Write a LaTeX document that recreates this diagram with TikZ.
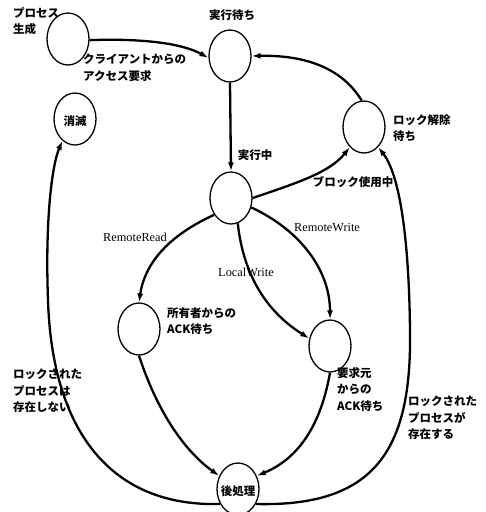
\documentclass[tikz,border=0pt]{standalone}
\usepackage{fontspec}
\setmainfont{Liberation Serif}
\newfontfamily\jp{Noto Sans CJK JP}
\usetikzlibrary{shapes.geometric,arrows.meta}
\begin{document}
\begin{tikzpicture}[x=1pt,y=-1pt,
  state/.style={ellipse,draw,line width=1.3pt,minimum width=42pt,minimum height=52pt,inner sep=0pt},
  jlab/.style={font=\jp\bfseries\fontsize{11.5}{16.5}\selectfont,align=left,inner sep=0pt},
  elab/.style={font=\fontsize{12.3}{14}\selectfont,inner sep=0pt},
  edge/.style={line width=2.3pt,-{Latex[length=9pt,width=6pt]}}]
\useasboundingbox (0,0) rectangle (486,512);
% states
\node[state] (gen) at (68,39) {};
\node[state] (wait) at (230,56) {};
\node[state] (vanish) at (75,119) {};
\node[state] (lock) at (364,127) {};
\node[state] (run) at (231,198) {};
\node[state] (owner) at (139,329) {};
\node[state] (req) at (330,346) {};
\node[state] (post) at (238,489) {};
% state labels
\node[jlab,anchor=north west] (lgen) at (13,7) {プロセス\\生成};
\node[jlab] (lwait) at (232,15) {実行待ち};
\node[jlab] (lvanish) at (75,121) {消滅};
\node[jlab,anchor=north west] (llock) at (393,114) {ロック解除\\待ち};
\node[jlab] (lrun) at (255,155) {実行中};
\node[jlab,anchor=north west] (lowner) at (167,307) {所有者からの\\ACK待ち};
\node[jlab,anchor=north west] (lreq) at (337,367) {要求元\\からの\\ACK待ち};
\node[jlab] (lpost) at (238,491) {後処理};
% edge labels
\node[jlab,anchor=north west] (lacc) at (83,54) {クライアントからの\\アクセス要求};
\node[jlab] (lblock) at (353,182) {ブロック使用中};
\node[elab] (lrr) at (135,237) {RemoteRead};
\node[elab] (lrw) at (327,228) {RemoteWrite};
\node[elab] (llw) at (246,272) {LocalWrite};
\node[jlab,anchor=north west] (lnone) at (13,369) {ロックされた\\プロセスは\\存在しない};
\node[jlab,anchor=north west] (lexist) at (408,396) {ロックされた\\プロセスが\\存在する};
% edges
\draw[edge] (gen.-3) .. controls (150,38) and (185,45) .. (wait.185);
\draw[edge] (wait.south) -- (run.north);
\draw[edge] (run.0) .. controls (300,182) and (330,172) .. (lock.235);
\draw[edge] (lock.95) .. controls (340,65) and (300,55) .. (wait.0);
\draw[edge] (run.225) .. controls (170,235) and (145,262) .. (owner.north);
\draw[edge] (run.-75) .. controls (245,290) and (280,320) .. (req.160);
\draw[edge] (run.-25) .. controls (300,230) and (330,270) .. (req.north);
\draw[edge] (owner.south) .. controls (160,420) and (190,455) .. (post.145);
\draw[edge] (req.south) .. controls (320,430) and (295,460) .. (post.35);
\draw[edge] (post.220) .. controls (110,507) and (52,430) .. (48,300)
  .. controls (45,220) and (52,165) .. (vanish.240);
\draw[edge] (post.-40) .. controls (375,507) and (412,450) .. (410,330)
  .. controls (409,240) and (400,175) .. (lock.-55);
\end{tikzpicture}
\end{document}
